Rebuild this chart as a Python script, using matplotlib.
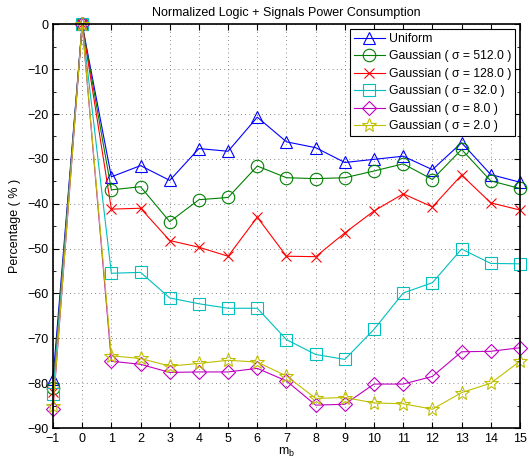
import numpy as np
import matplotlib
matplotlib.use('Agg')
import matplotlib.pyplot as plt
from matplotlib.ticker import MultipleLocator

plt.rcParams['font.family'] = ['Liberation Sans', 'DejaVu Sans']
plt.rcParams['axes.unicode_minus'] = True

# Data
mb = np.arange(-1, 16)

uniform = [-79.0, 0, -34.0, -31.5, -34.8, -27.7, -28.3, -20.7, -26.2, -27.5,
           -30.8, -30.1, -29.4, -32.4, -26.4, -33.5, -35.2]
g512 = [-81.0, 0, -36.9, -36.2, -44.0, -39.1, -38.6, -31.6, -34.2, -34.4,
        -34.2, -32.7, -31.1, -34.6, -27.9, -34.9, -36.6]
g128 = [-82.0, 0, -41.2, -41.0, -48.2, -49.7, -51.7, -43.0, -51.7, -51.8,
        -46.5, -41.6, -37.8, -40.7, -33.6, -39.8, -41.4]
g32 = [-82.4, 0, -55.5, -55.3, -61.0, -62.3, -63.3, -63.3, -70.3, -73.6,
       -74.7, -68.0, -59.9, -57.6, -50.1, -53.3, -53.4]
g8 = [-85.8, 0, -75.1, -75.8, -77.6, -77.5, -77.5, -76.7, -79.5, -84.9,
      -84.7, -80.2, -80.2, -78.5, -73.0, -72.9, -72.1]
g2 = [-85.2, 0, -73.9, -74.5, -76.2, -75.6, -74.9, -75.3, -78.4, -83.4,
      -83.2, -84.4, -84.6, -85.8, -82.1, -80.0, -75.1]

labels = ['Uniform', u'Gaussian ( \u03c3 = 512.0 )', u'Gaussian ( \u03c3 = 128.0 )',
          u'Gaussian ( \u03c3 = 32.0 )', u'Gaussian ( \u03c3 = 8.0 )', u'Gaussian ( \u03c3 = 2.0 )']
colors = ['#0000ff', '#008000', '#ff0000', '#00bfbf', '#bf00bf', '#bfbf00']
markers = ['^', 'o', 'x', 's', 'D', '*']
sizes = [9, 9, 7, 8, 7, 10]

fig = plt.figure(figsize=(5.31, 4.59), dpi=100)
ax = fig.add_axes([0.0998, 0.0675, 0.8794, 0.8795])

series = [uniform, g512, g128, g32, g8, g2]
for s, lab, c, m, ms in zip(series, labels, colors, markers, sizes):
    ax.plot(mb, s, color=c, marker=m, markersize=ms, markerfacecolor='none',
            markeredgecolor=c, markeredgewidth=0.8, linewidth=0.8, label=lab,
            clip_on=False, zorder=3)

ax.set_xlim(-1, 15)
ax.set_ylim(-90, 0)
ax.xaxis.set_major_locator(MultipleLocator(1))
ax.yaxis.set_major_locator(MultipleLocator(10))
ax.yaxis.set_minor_locator(MultipleLocator(5))
ax.tick_params(which='both', direction='in', top=True, right=True, labelsize=9)
ax.tick_params(which='major', length=4)
ax.tick_params(which='minor', length=2)
ax.grid(True, which='major', linestyle=(0, (1, 4)), color='#666666', linewidth=0.6)
for sp in ax.spines.values():
    sp.set_linewidth(1.2)
    sp.set_zorder(4)

ax.set_title('Normalized Logic + Signals Power Consumption', fontsize=9)
ax.set_xlabel('m$_\\mathregular{b}$', fontsize=9, labelpad=1)
ax.set_ylabel('Percentage ( % )', fontsize=9)

leg = ax.legend(loc='upper right', fontsize=8.8, fancybox=False, framealpha=1,
                edgecolor='black', borderpad=0.3, labelspacing=0.45,
                handlelength=2.6, handletextpad=0.3, borderaxespad=0.4)
leg.get_frame().set_linewidth(0.8)
leg.set_zorder(5)

fig.savefig('out.png', dpi=100)
